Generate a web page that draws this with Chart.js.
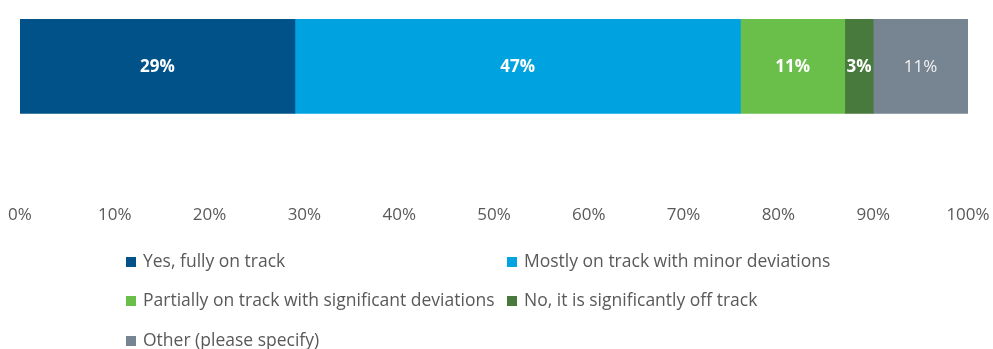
<!DOCTYPE html>
<html>
<head>
<meta charset="utf-8">
<script src="https://cdn.jsdelivr.net/npm/chart.js@4"></script>
<style>
  html, body { margin: 0; padding: 0; background: #fff; }
  #wrap { position: relative; width: 993px; height: 349px; }
</style>
</head>
<body>
<div id="wrap"><canvas id="track-status"></canvas></div>
<script>
// survey answers, share of respondents in %
const answers = [
    "Yes, fully on track",
    "Mostly on track with minor deviations",
    "Partially on track with significant deviations",
    "No, it is significantly off track",
    "Other (please specify)"
];
const shares = [29, 47, 11, 3, 11];
const colors = ["#005288", "#00A3E0", "#6ABF4B", "#477A3C", "#778593"];
const boldLabel = [true, true, true, true, false];
const tickValues = [0, 10, 20, 30, 40, 50, 60, 70, 80, 90, 100];

const FONT = "'Open Sans', 'Liberation Sans', sans-serif";

// value text in the middle of each segment
const segmentLabels = {
    id: 'segmentLabels',
    afterDatasetsDraw(chart) {
        const ctx = chart.ctx;
        const right = chart.chartArea.right;
        ctx.save();
        ctx.textAlign = 'center';
        ctx.textBaseline = 'middle';
        chart.data.datasets.forEach(function(ds, i) {
            const bar = chart.getDatasetMeta(i).data[0];
            const x = (Math.min(bar.x, right) + bar.base) / 2;
            ctx.font = (boldLabel[i] ? 'bold ' : '') + '17px ' + FONT;
            ctx.fillStyle = boldLabel[i] ? '#ffffff' : '#f2f2f2';
            ctx.fillText(ds.data[0] + '%', x, bar.y + 3);
        });
        ctx.restore();
    }
};

// two-column legend under the axis
const gridLegend = {
    id: 'gridLegend',
    afterDraw(chart) {
        const ctx = chart.ctx;
        const cols = [126, 507];
        const rows = [262, 301, 341];
        ctx.save();
        ctx.font = '17.5px ' + FONT;
        ctx.textBaseline = 'middle';
        ctx.textAlign = 'left';
        chart.data.datasets.forEach(function(ds, i) {
            const x = cols[i % 2];
            const y = rows[Math.floor(i / 2)];
            ctx.fillStyle = ds.backgroundColor;
            ctx.fillRect(x, y - 5, 10, 10);
            ctx.fillStyle = '#595959';
            ctx.fillText(ds.label, x + 17, y);
        });
        ctx.restore();
    }
};

new Chart(document.getElementById("track-status"), {
    type: 'bar',
    data: {
        // second row stays empty so the bar sits in the upper part of the plot
        labels: ["", " "],
        datasets: answers.map(function(name, i) {
            return {
                label: name,
                data: [shares[i]],
                backgroundColor: colors[i],
                borderWidth: 0,
                barThickness: 98
            };
        })
    },
    options: {
        indexAxis: 'y',
        responsive: true,
        maintainAspectRatio: false,
        animation: false,
        layout: { padding: { left: 20, right: 25, top: 19, bottom: 120 } },
        scales: {
            x: {
                stacked: true,
                min: 0,
                max: 100,
                border: { display: false },
                grid: { display: false, drawTicks: false },
                afterBuildTicks: function(axis) {
                    axis.ticks = tickValues.map(function(v) { return { value: v }; });
                },
                afterFit: function(axis) {
                    axis.paddingLeft = 0;
                    axis.paddingRight = 0;
                },
                ticks: {
                    padding: 4,
                    color: '#595959',
                    font: { family: FONT, size: 17 },
                    maxRotation: 0,
                    callback: function(v) { return v + '%'; }
                }
            },
            y: {
                stacked: true,
                display: false
            }
        },
        plugins: {
            legend: { display: false },
            tooltip: { enabled: false }
        }
    },
    plugins: [segmentLabels, gridLegend]
});
</script>
</body>
</html>
